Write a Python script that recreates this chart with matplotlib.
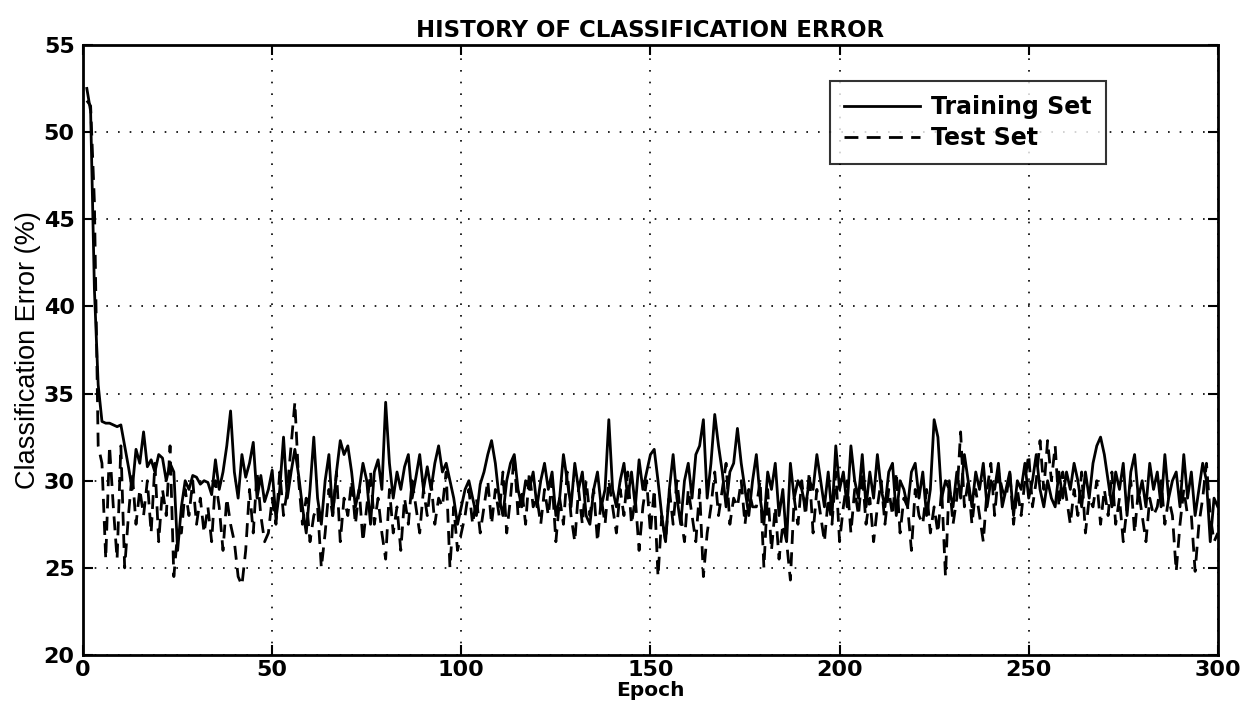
import matplotlib
matplotlib.use("Agg")
import matplotlib.pyplot as plt
import numpy as np

plt.rcParams['font.family'] = ['DejaVu Sans']

epochs = list(range(1, 301))

training_error = [
    52.5, 51.2, 41.0, 35.5, 33.4, 33.3, 33.3, 33.2, 33.1, 33.2,
    32.0, 30.8, 29.5, 31.8, 31.0, 32.8, 30.8, 31.2, 30.5, 31.5,
    31.3, 30.0, 31.0, 30.5, 26.0, 28.5, 30.0, 29.5, 30.3, 30.2,
    29.8, 30.0, 29.9, 29.2, 31.2, 29.5, 30.5, 32.0, 34.0, 30.5,
    29.0, 31.5, 30.2, 31.0, 32.2, 29.0, 30.3, 28.8, 29.5, 30.6,
    27.8, 29.5, 32.5, 29.0, 30.5, 31.8, 30.3, 28.5, 27.0, 29.5,
    32.5, 29.0, 27.5, 30.0, 31.5, 28.0, 30.5, 32.3, 31.5, 32.0,
    30.5, 28.5, 29.5, 31.0, 30.0, 27.5, 30.5, 31.2, 29.5, 34.5,
    31.0, 29.0, 30.5, 29.5, 30.8, 31.5, 29.0, 30.2, 31.5, 29.5,
    30.8, 29.5, 31.0, 32.0, 30.5, 31.0, 30.0, 29.0, 27.5, 28.5,
    29.5, 30.0, 29.0, 28.0, 29.8, 30.5, 31.5, 32.3, 31.0, 29.0,
    28.0, 30.0, 31.0, 31.5, 29.5, 28.5, 30.0, 29.5, 30.5, 28.5,
    30.0, 31.0, 29.5, 30.5, 28.0, 29.0, 31.5, 30.0, 28.5, 31.0,
    29.5, 30.5, 28.0, 27.5, 29.5, 30.5, 28.5, 29.5, 33.5, 29.5,
    28.5, 30.0, 31.0, 29.0, 30.5, 28.5, 31.2, 29.5, 30.5, 31.5,
    31.8, 30.0, 28.0, 26.5, 29.5, 31.5, 29.0, 27.5, 30.0, 31.0,
    29.0, 31.5, 32.0, 33.5, 29.0, 31.0, 33.8, 32.0, 30.5, 28.5,
    30.5, 31.0, 33.0, 31.0, 29.5, 28.0, 30.0, 31.5, 29.0, 27.5,
    30.5, 29.5, 31.0, 28.0, 29.5, 26.5, 31.0, 29.0, 30.0, 29.5,
    28.5, 30.0, 29.5, 31.5, 30.0, 28.5, 30.5, 28.0, 32.0, 29.5,
    30.5, 28.5, 32.0, 30.0, 29.0, 31.5, 28.5, 30.5, 29.0, 31.5,
    29.5, 28.5, 30.5, 31.0, 28.0, 30.0, 29.5, 28.5, 30.5, 31.0,
    29.0, 30.5, 28.0, 29.5, 33.5, 32.5, 29.0, 30.0, 29.5, 28.5,
    30.5, 29.0, 31.5, 30.0, 28.5, 30.5, 29.5, 31.0, 28.5, 30.0,
    29.5, 31.0, 28.5, 29.5, 30.5, 28.0, 30.0, 29.5, 31.0, 29.0,
    30.0, 31.5, 29.5, 28.5, 30.0, 29.0, 28.5, 30.5, 29.0, 30.5,
    29.5, 31.0, 30.0, 28.5, 30.5, 29.0, 31.0, 32.0, 32.5, 31.5,
    30.0, 28.5, 30.5, 29.5, 31.0, 28.0, 30.5, 31.5, 29.0, 30.0,
    28.5, 31.0, 29.5, 30.5, 28.5, 31.5, 29.0, 30.0, 30.5, 28.5,
    31.5, 29.0, 30.5, 28.0, 29.5, 31.0, 30.0, 26.5, 29.0, 28.5,
]

test_error = [
    51.8, 51.5, 46.0, 32.0, 31.0, 25.5, 32.0, 28.5, 25.5, 32.0,
    25.0, 28.0, 30.5, 27.5, 29.5, 28.0, 30.0, 27.0, 31.0, 26.5,
    29.5, 28.0, 32.0, 24.5, 27.0, 27.0, 29.5, 28.0, 30.0, 27.5,
    29.0, 27.0, 28.5, 26.5, 30.0, 28.5, 26.0, 29.0, 27.5, 26.5,
    24.5, 24.0, 26.0, 29.5, 27.0, 30.5, 28.0, 26.5, 27.0, 29.0,
    27.5, 30.5, 28.0, 29.5, 32.0, 34.5, 30.0, 27.5, 29.0, 26.5,
    28.0, 28.5, 25.0, 27.0, 29.5, 28.0, 30.5, 26.5, 29.0, 28.0,
    30.0, 27.5, 29.5, 26.5, 28.5, 30.5, 27.5, 29.0, 27.0, 25.5,
    29.5, 27.0, 28.5, 26.0, 29.0, 27.5, 30.0, 28.5, 27.0, 29.5,
    28.0, 30.0, 27.5, 29.0, 28.5, 30.5, 25.0, 28.5, 26.0, 27.0,
    28.0, 29.5, 27.5, 29.0, 27.0, 28.5, 30.0, 27.5, 29.5, 28.0,
    30.5, 27.0, 29.0, 31.5, 28.0, 29.5, 27.5, 30.5, 28.5, 29.0,
    27.5, 29.5, 28.0, 30.0, 26.5, 29.0, 27.5, 30.5, 28.0, 26.5,
    29.5, 27.5, 30.0, 28.0, 29.5, 26.5, 29.0, 27.5, 30.0, 28.5,
    27.0, 29.5, 28.0, 30.5, 27.5, 29.0, 26.0, 28.5, 30.0, 27.0,
    29.5, 24.5, 28.0, 26.5, 29.5, 27.5, 30.0, 28.0, 26.5, 29.5,
    28.0, 26.5, 29.5, 24.5, 27.0, 28.5, 30.5, 28.0, 29.5, 31.0,
    27.5, 29.0, 28.5, 30.0, 27.5, 29.5, 28.5, 28.5, 30.0, 25.0,
    29.5, 26.0, 28.5, 25.5, 27.5, 26.5, 24.3, 29.0, 27.5, 30.0,
    28.0, 30.5, 27.0, 29.5, 28.0, 26.5, 29.0, 27.5, 30.5, 26.5,
    28.5, 30.0, 27.0, 29.5, 28.0, 30.5, 27.5, 29.0, 26.5, 28.5,
    30.0, 27.5, 29.5, 28.0, 30.5, 27.0, 29.0, 28.5, 26.0, 29.5,
    28.0, 27.5, 29.5, 27.0, 28.5, 27.0, 29.5, 24.5, 30.0, 27.5,
    29.0, 32.8, 28.5, 30.0, 27.5, 29.5, 28.0, 26.5, 29.5, 31.0,
    28.0, 30.5, 29.5, 29.0, 30.5, 27.5, 29.5, 28.0, 30.0, 31.5,
    28.5, 30.0, 32.3, 29.5, 32.3, 30.0, 32.0, 28.5, 30.5, 29.0,
    27.5, 29.5, 28.0, 30.5, 27.0, 29.0, 28.5, 30.0, 27.5, 29.5,
    28.0, 30.5, 27.5, 29.0, 26.5, 28.5, 30.0, 27.0, 29.5, 28.0,
    26.5, 29.0, 28.0, 28.5, 30.0, 27.5, 29.0, 28.0, 24.8, 27.5,
    29.5, 28.0, 28.0, 24.8, 27.5, 29.0, 31.0, 28.0, 26.5, 27.0,
]

x_ticks = [0, 50, 100, 150, 200, 250, 300]
y_ticks = [20, 25, 30, 35, 40, 45, 50, 55]

fig = plt.figure(figsize=(12.47, 7.12), dpi=100)
ax = fig.add_axes([0.0666, 0.080, 0.910, 0.857])

ax.plot(epochs, training_error, color='black', lw=2.0, label='Training Set')
ax.plot(epochs, test_error, color='black', lw=2.0, linestyle=(0, (5, 3)), label='Test Set')

ax.set_xlim(0, 300)
ax.set_ylim(20, 55)
ax.set_xticks(x_ticks)
ax.set_yticks(y_ticks)
ax.tick_params(direction='in', length=7, width=1.5, labelsize=16, top=True, right=True)
ax.tick_params(axis='x', pad=3.5)
ax.tick_params(axis='y', pad=6)
for lab in ax.get_xticklabels() + ax.get_yticklabels():
    lab.set_fontweight('bold')
ax.grid(True, linestyle=(0, (1, 6)), color='black', linewidth=1.2)
for sp in ax.spines.values():
    sp.set_linewidth(2.0)

ax.set_title('HISTORY OF CLASSIFICATION ERROR', fontsize=16.5, fontweight='bold', pad=6)
ax.set_xlabel('Epoch', fontsize=14.5, fontweight='bold', labelpad=1)
ax.set_ylabel('Classification Error (%)', fontsize=19.5, labelpad=2,
              family=['Liberation Sans', 'DejaVu Sans'])

leg = ax.legend(loc='upper right', bbox_to_anchor=(0.912, 0.96), frameon=True,
                fancybox=False, edgecolor='black', handlelength=3.2, borderpad=0.6,
                labelspacing=0.3, handletextpad=0.5, prop={'weight': 'bold', 'size': 17})
leg.get_frame().set_linewidth(1.5)

fig.savefig('out.png', dpi=100)
